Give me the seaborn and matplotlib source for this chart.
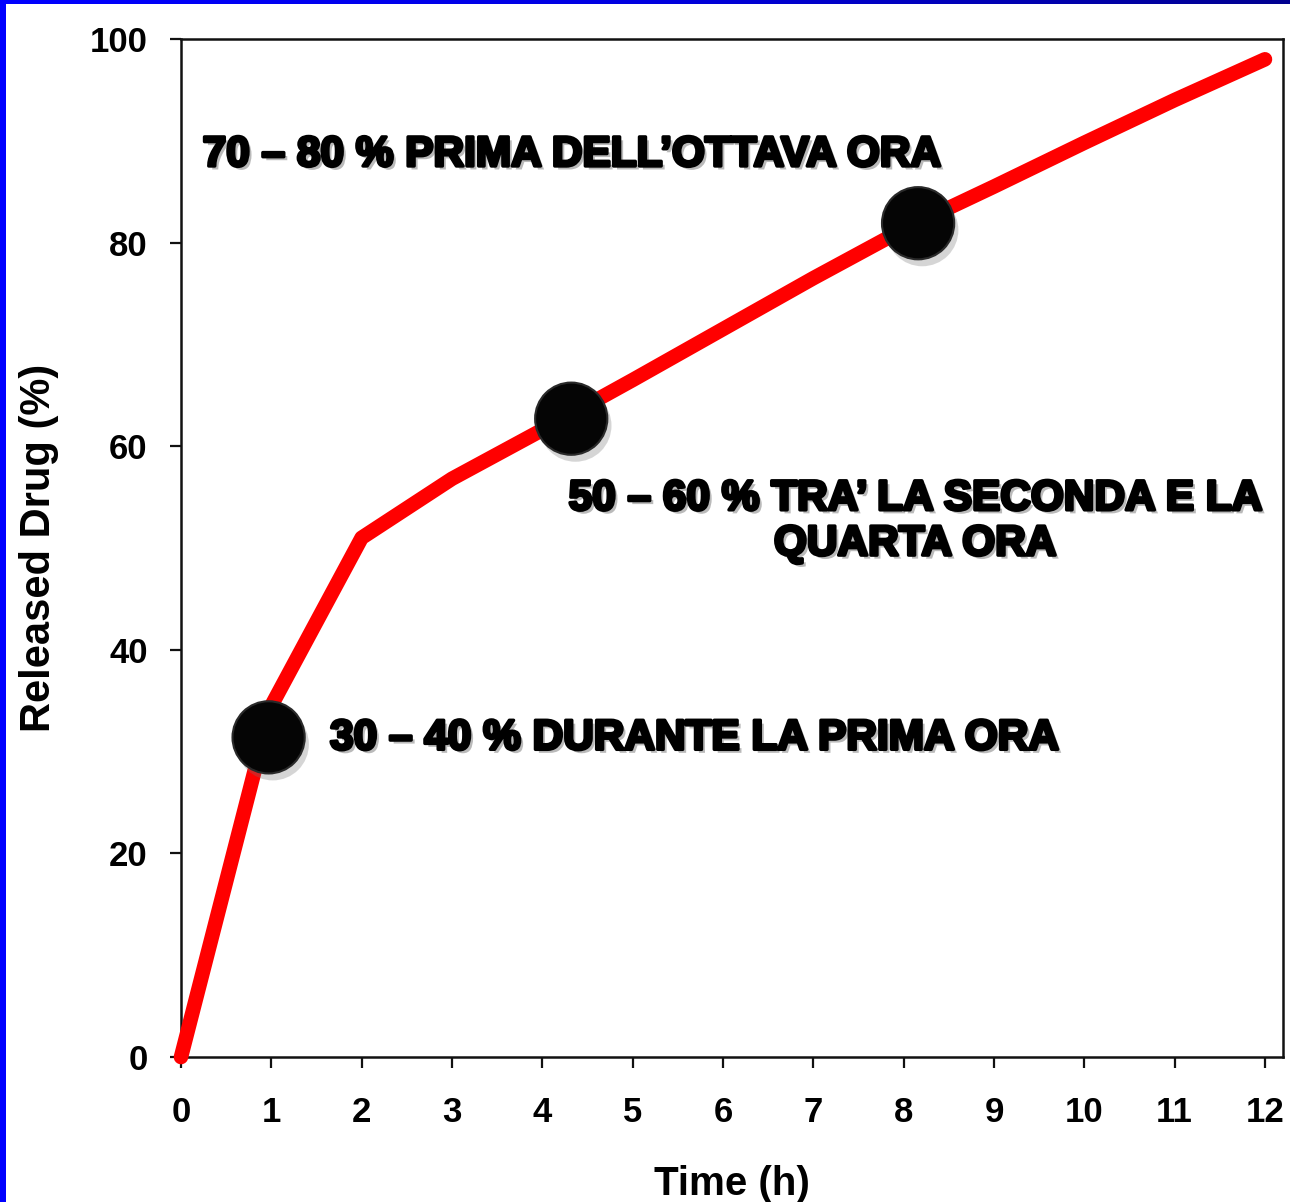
import numpy as np
import pandas as pd
import matplotlib
matplotlib.use("Agg")
import matplotlib.pyplot as plt
import matplotlib.patheffects as pe
import seaborn as sns

# Release profile (hours, % released)
hours = [0, 1, 2, 3, 4, 5, 6, 7, 8, 9, 10, 11, 12]
released = [0, 34.5, 51, 56.8, 61.6, 66.5, 71.5, 76.5, 81.3, 85.5, 89.8, 94, 98]

# Highlighted milestones on the curve
milestone_hours = [0.97, 4.32, 8.16]
milestone_released = [31.4, 62.7, 81.9]

# Annotation texts
note_first = "30 – 40 % DURANTE LA PRIMA ORA"
note_second = "50 – 60 % TRA’ LA SECONDA E LA\nQUARTA ORA"
note_eighth = "70 – 80 % PRIMA DELL’OTTAVA ORA"

x_ticks = list(range(0, 13))
y_ticks = [0, 20, 40, 60, 80, 100]

sns.set_theme(style="ticks")
plt.rcParams["font.family"] = ["Liberation Sans", "DejaVu Sans"]
plt.rcParams["text.color"] = "black"
plt.rcParams["axes.labelcolor"] = "black"
plt.rcParams["xtick.color"] = "black"
plt.rcParams["ytick.color"] = "black"

fig = plt.figure(figsize=(12.9, 12.02), dpi=100)
fig.patch.set_facecolor("white")
ax = fig.add_axes([0.1403, 0.1206, 0.8543, 0.8470])
ax.set_facecolor("white")

curve = pd.DataFrame({"hours": hours, "released": released})
sns.lineplot(data=curve, x="hours", y="released", ax=ax, color="#ff0000",
             linewidth=10.5, solid_capstyle="round", solid_joinstyle="round",
             clip_on=False, zorder=3)

marks = pd.DataFrame({"hours": milestone_hours, "released": milestone_released})
sc = sns.scatterplot(data=marks, x="hours", y="released", ax=ax, s=52 ** 2,
                     color="#050505", edgecolor="#2a2a2a", linewidth=1.5,
                     zorder=4, clip_on=False)
sc.collections[-1].set_path_effects([
    pe.SimplePatchShadow(offset=(3, -5), shadow_rgbFace="#777777", alpha=0.3),
    pe.Normal(),
])

ax.set_xlim(0, 12.2)
ax.set_ylim(0, 100)
ax.set_xticks(x_ticks)
ax.set_yticks(y_ticks)
ax.set_xticklabels([str(t) for t in x_ticks], fontsize=25, fontweight="bold", color="black")
ax.set_yticklabels([str(t) for t in y_ticks], fontsize=25, fontweight="bold", color="black")
ax.tick_params(axis="both", direction="out", length=8, width=1.6, color="#111111")
ax.tick_params(axis="x", pad=20)
ax.tick_params(axis="y", pad=16)
for side in ["left", "right", "top", "bottom"]:
    ax.spines[side].set_visible(True)
    ax.spines[side].set_color("#111111")
    ax.spines[side].set_linewidth(1.8)

ax.set_xlabel("Time (h)", fontsize=29, fontweight="bold", labelpad=26, color="black")
ax.set_ylabel("Released Drug (%)", fontsize=30, fontweight="bold", labelpad=22, color="black")

text_fx = [
    pe.withSimplePatchShadow(offset=(2.5, -2.5), shadow_rgbFace="#666666", alpha=0.45),
    pe.withStroke(linewidth=2.4, foreground="black"),
]
ax.text(0.24, 88.6, note_eighth, fontsize=30.5, fontweight="bold", color="black",
        ha="left", va="center", path_effects=text_fx, zorder=5)
ax.text(8.13, 52.6, note_second, fontsize=30.5, fontweight="bold", color="black",
        ha="center", va="center", multialignment="center", linespacing=1.17,
        path_effects=text_fx, zorder=5)
ax.text(1.65, 31.3, note_first, fontsize=30.5, fontweight="bold", color="black",
        ha="left", va="center", path_effects=text_fx, zorder=5)

# Slide frame: blue band on the left and a blue-to-navy band across the top
frame_left = fig.add_axes([0, 0, 6 / 1290, 1])
frame_left.set_facecolor("#0000ff")
frame_left.set_xticks([])
frame_left.set_yticks([])
for s in frame_left.spines.values():
    s.set_visible(False)

frame_top = fig.add_axes([0, 1 - 4 / 1202, 1, 4 / 1202])
grad = np.linspace(0, 1, 256).reshape(1, -1)
cmap = matplotlib.colors.LinearSegmentedColormap.from_list(
    "band", ["#0000ff", "#0000e0", "#000090"])
frame_top.imshow(grad, aspect="auto", cmap=cmap, extent=[0, 1, 0, 1])
frame_top.set_axis_off()

fig.savefig("out.png", dpi=100, facecolor="white")
